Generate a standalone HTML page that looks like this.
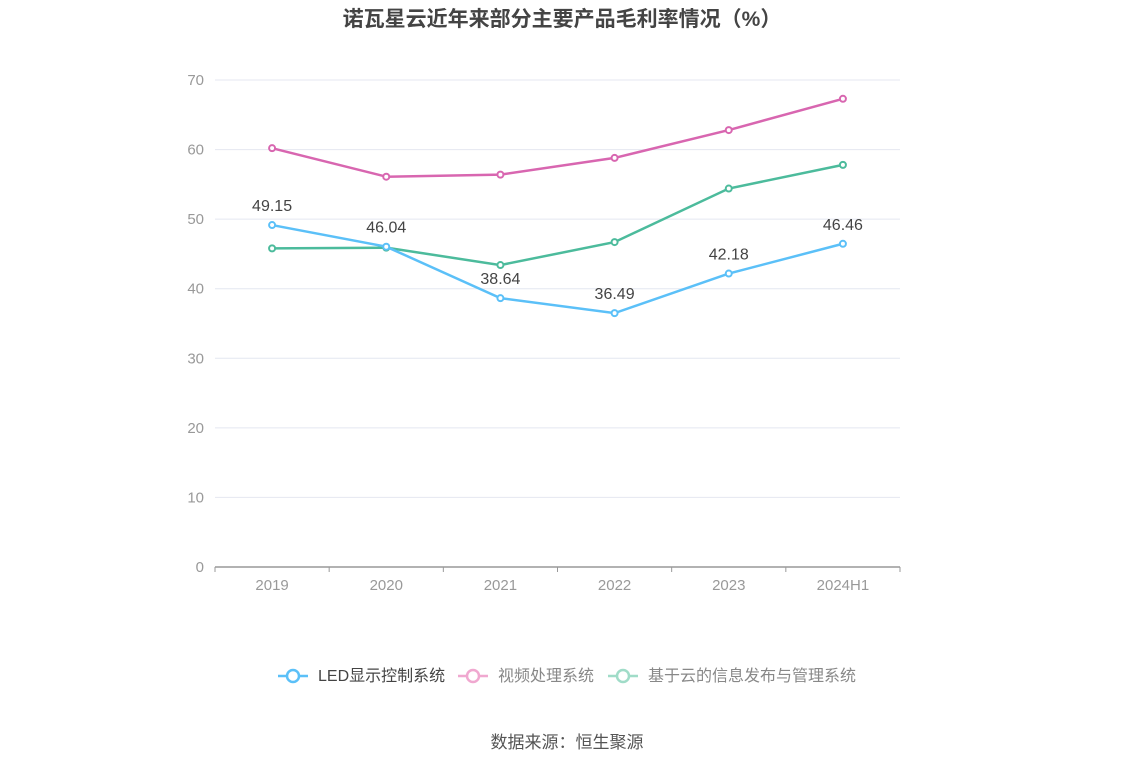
<!DOCTYPE html>
<html><head><meta charset="utf-8"><style>
body{margin:0;background:#fff;font-family:"Liberation Sans","Noto Sans CJK SC",sans-serif;}
svg text{font-family:"Liberation Sans","Noto Sans CJK SC",sans-serif;}
</style></head><body>
<svg id="c" width="1134" height="766">
<text x="562" y="26" text-anchor="middle" font-size="21" font-weight="bold" fill="#444">诺瓦星云近年来部分主要产品毛利率情况（%）</text>
<g id="grid"></g><g id="series"></g>
<g font-size="16">
<g><line x1="278" y1="676" x2="308" y2="676" stroke="#5bc0f8" stroke-width="2.5"/><circle cx="293" cy="676" r="6" fill="#fff" stroke="#5bc0f8" stroke-width="2.5"/><text x="318" y="681" fill="#444">LED显示控制系统</text></g>
<g><line x1="458" y1="676" x2="488" y2="676" stroke="#f0a8d0" stroke-width="2.5"/><circle cx="473" cy="676" r="6" fill="#fff" stroke="#f0a8d0" stroke-width="2.5"/><text x="498" y="681" fill="#888">视频处理系统</text></g>
<g><line x1="608" y1="676" x2="638" y2="676" stroke="#a0dcc8" stroke-width="2.5"/><circle cx="623" cy="676" r="6" fill="#fff" stroke="#a0dcc8" stroke-width="2.5"/><text x="648" y="681" fill="#888">基于云的信息发布与管理系统</text></g>
</g>
<text x="567" y="748" text-anchor="middle" font-size="17" fill="#555">数据来源：恒生聚源</text>
</svg>
<script>
const categories=["2019","2020","2021","2022","2023","2024H1"];
const ledValues=[49.15,46.04,38.64,36.49,42.18,46.46];
const videoValues=[60.2,56.1,56.4,58.8,62.8,67.3];
const cloudValues=[45.8,45.9,43.4,46.7,54.4,57.8];
const yTicks=[0,10,20,30,40,50,60,70];
const NS="http://www.w3.org/2000/svg";
const x0=215,x1=900,y0=567,y1=80,ymax=70;
const bw=(x1-x0)/categories.length;
const xs=i=>x0+bw*(i+0.5);
const ys=v=>y0-(v/ymax)*(y0-y1);
function mk(t,a,p){const e=document.createElementNS(NS,t);for(const k in a)e.setAttribute(k,a[k]);p.appendChild(e);return e;}
const g=document.getElementById('grid'),s=document.getElementById('series');
yTicks.forEach(v=>{
 const l=mk('line',{x1:x0,x2:x1,y1:ys(v),y2:ys(v),stroke:v===0?'#999':'#e4e7f0','stroke-width':v===0?1.5:1},g);
 
 
 const t=mk('text',{x:204,y:ys(v)+5,'text-anchor':'end','font-size':15,fill:'#999'},g);t.textContent=v;
 
 
});
categories.forEach((c,i)=>{
 mk('line',{x1:x0+bw*i,x2:x0+bw*i,y1:y0,y2:y0+5,stroke:'#999'},g);
 const t=mk('text',{x:xs(i),y:590,'text-anchor':'middle','font-size':15,fill:'#999'},g);t.textContent=c;
 
 
});
mk('line',{x1:x1,x2:x1,y1:y0,y2:y0+5,stroke:'#999'},g);
function draw(vals,color,name,labels){
 const p=mk('polyline',{points:vals.map((v,i)=>xs(i)+','+ys(v)).join(' '),fill:'none',stroke:color,'stroke-width':2.5},s);
 
 
 vals.forEach((v,i)=>{
  const c=mk('circle',{cx:xs(i),cy:ys(v),r:3,fill:'#fff',stroke:color,'stroke-width':2},s);
  
  
  if(labels){const t=mk('text',{x:xs(i),y:ys(v)-14,'text-anchor':'middle','font-size':16,fill:'#444'},s);t.textContent=v.toFixed(2);
  
  }
 });
}
draw(videoValues,'#d866b0','video');
draw(cloudValues,'#4cbb9c','cloud');
draw(ledValues,'#5bc0f8','led',true);
</script>
</body></html>
